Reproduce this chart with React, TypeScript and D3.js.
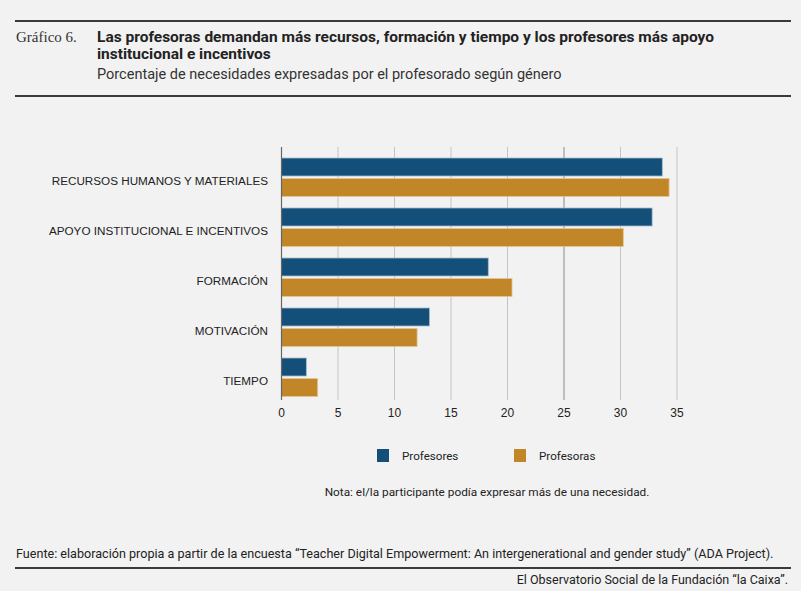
import { useEffect, useRef } from "react";
import * as d3 from "d3";

const categories = [
  "RECURSOS HUMANOS Y MATERIALES",
  "APOYO INSTITUCIONAL E INCENTIVOS",
  "FORMACIÓN",
  "MOTIVACIÓN",
  "TIEMPO",
];
const seriesNames = ["Profesores", "Profesoras"];
const profesores = [33.7, 32.8, 18.3, 13.1, 2.2];
const profesoras = [34.3, 30.25, 20.4, 12.0, 3.2];
const xTicks = [0, 5, 10, 15, 20, 25, 30, 35];

const colors = ["#134f79", "#c08628"];
const narrow = "'Roboto', sans-serif";
const sans = "'Liberation Sans', Arial, sans-serif";

export default function App() {
  const svgRef = useRef<SVGSVGElement>(null);

  useEffect(() => {
    if (!svgRef.current) return;
    const width = 801;
    const height = 591;
    const svg = d3.select(svgRef.current);
    svg.selectAll("*").remove();

    svg.append("rect").attr("width", width).attr("height", height).attr("fill", "#f2f2f2");

    // rules
    [21, 96, 568].forEach((y) => {
      svg
        .append("line")
        .attr("x1", 15)
        .attr("x2", 791)
        .attr("y1", y)
        .attr("y2", y)
        .attr("stroke", "#3a3a3a")
        .attr("stroke-width", 2);
    });

    svg
      .append("text")
      .attr("x", 16)
      .attr("y", 42)
      .attr("font-family", "'Liberation Serif', serif")
      .attr("font-size", 15)
      .attr("fill", "#333")
      .text("Gráfico 6.");

    const title = [
      "Las profesoras demandan más recursos, formación y tiempo y los profesores más apoyo",
      "institucional e incentivos",
    ];
    title.forEach((t, i) => {
      svg
        .append("text")
        .attr("x", 97)
        .attr("y", 42 + i * 17)
        .attr("font-family", narrow)
        .attr("font-weight", "bold")
        .attr("font-size", 15.5)
        .attr("fill", "#222")
        .text(t);
    });

    svg
      .append("text")
      .attr("x", 97)
      .attr("y", 79)
      .attr("font-family", narrow)
      .attr("font-size", 14.5)
      .attr("fill", "#333")
      .text("Porcentaje de necesidades expresadas por el profesorado según género");

    // chart
    const margin = { left: 281.5, right: 677, top: 147, bottom: 400 };
    const x = d3.scaleLinear().domain([0, 35]).range([margin.left, margin.right]);
    const y = d3.scaleBand().domain(categories).range([158, 408]).paddingInner(0);
    const barH = 18;
    const gap = 2.5;

    const g = svg.append("g");

    g.selectAll("line.grid")
      .data(xTicks.slice(1))
      .join("line")
      .attr("class", "grid")
      .attr("x1", (d) => x(d))
      .attr("x2", (d) => x(d))
      .attr("y1", margin.top)
      .attr("y2", margin.bottom)
      .attr("stroke", (d) => (d === 25 ? "#8a8a8a" : "#c4c4c4"))
      .attr("stroke-width", 1);

    const series = [profesores, profesoras];
    series.forEach((vals, si) => {
      g.selectAll(`rect.s${si}`)
        .data(vals)
        .join("rect")
        .attr("class", `s${si}`)
        .attr("x", x(0))
        .attr("y", (_, i) => (y(categories[i]) as number) + si * (barH + gap))
        .attr("width", (d) => x(d) - x(0))
        .attr("height", barH)
        .attr("fill", colors[si])
        .attr("stroke", si === 0 ? "#a9bccb" : "#e2c695")
        .attr("stroke-width", 0.8);
    });

    // zero axis
    g.append("line")
      .attr("x1", x(0))
      .attr("x2", x(0))
      .attr("y1", margin.top)
      .attr("y2", margin.bottom)
      .attr("stroke", "#666")
      .attr("stroke-width", 1.2);

    // category labels
    g.selectAll("text.cat")
      .data(categories)
      .join("text")
      .attr("class", "cat")
      .attr("x", 268)
      .attr("y", (d) => (y(d) as number) + 26.5)
      .attr("text-anchor", "end")
      .attr("font-family", sans)
      .attr("font-size", 11.7)
      .attr("fill", "#222")
      .text((d) => d);

    // tick labels
    g.selectAll("text.tick")
      .data(xTicks)
      .join("text")
      .attr("class", "tick")
      .attr("x", (d) => x(d))
      .attr("y", 417)
      .attr("text-anchor", "middle")
      .attr("font-family", sans)
      .attr("font-size", 12)
      .attr("fill", "#222")
      .text((d) => d);

    // legend
    const legendX = [377, 514];
    seriesNames.forEach((name, i) => {
      svg
        .append("rect")
        .attr("x", legendX[i])
        .attr("y", 449)
        .attr("width", 12)
        .attr("height", 13)
        .attr("fill", colors[i]);
      svg
        .append("text")
        .attr("x", legendX[i] + 25)
        .attr("y", 460)
        .attr("font-family", narrow)
        .attr("font-size", 11.6)
        .attr("fill", "#222")
        .text(name);
    });

    svg
      .append("text")
      .attr("x", 487)
      .attr("y", 496)
      .attr("text-anchor", "middle")
      .attr("font-family", narrow)
      .attr("font-size", 11.8)
      .attr("fill", "#222")
      .text("Nota: el/la participante podía expresar más de una necesidad.");

    svg
      .append("text")
      .attr("x", 16)
      .attr("y", 558)
      .attr("font-family", narrow)
      .attr("font-size", 12.6)
      .attr("fill", "#222")
      .text(
        "Fuente: elaboración propia a partir de la encuesta \u201CTeacher Digital Empowerment: An intergenerational and gender study\u201D (ADA Project)."
      );

    svg
      .append("text")
      .attr("x", 788)
      .attr("y", 584)
      .attr("text-anchor", "end")
      .attr("font-family", narrow)
      .attr("font-size", 12.5)
      .attr("fill", "#222")
      .text("El Observatorio Social de la Fundación \u201Cla Caixa\u201D.");
  }, []);

  return (
    <svg
      ref={svgRef}
      width={801}
      height={591}
      style={{ display: "block", position: "absolute", top: 0, left: 0 }}
    />
  );
}
